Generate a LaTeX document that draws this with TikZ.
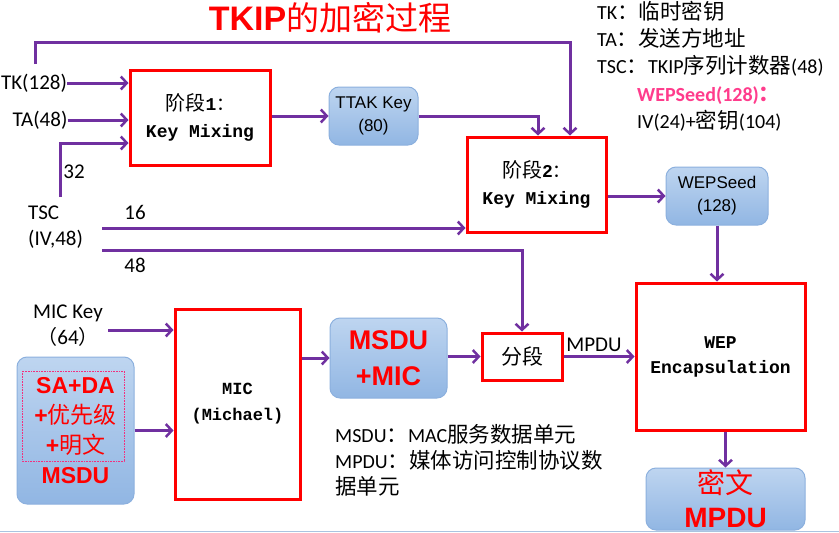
\documentclass[tikz,border=0pt]{standalone}
\usepackage{fontspec}
\setmainfont{Carlito}
\setmonofont{Liberation Mono}
\newfontfamily\cjk{Noto Sans CJK SC}
\newfontfamily\arialf{Liberation Sans}
\usetikzlibrary{arrows.meta,calc}
\definecolor{purp}{RGB}{112,48,160}
\definecolor{redc}{RGB}{255,0,0}
\definecolor{pinkc}{RGB}{255,60,140}
\definecolor{bluetop}{RGB}{190,213,240}
\definecolor{bluebot}{RGB}{145,182,227}
\definecolor{blueline}{RGB}{140,176,222}
\definecolor{baseblue}{RGB}{170,196,224}
\newcommand{\cjkl}[1]{{\cjk\fontsize{21.5}{27}\selectfont #1}}
\begin{document}
\begin{tikzpicture}[x=1pt,y=-1pt,
  redbox/.style={draw=redc,line width=3pt,fill=white,inner sep=0pt,align=center,
    font=\ttfamily\bfseries\fontsize{18}{27}\selectfont},
  bluebox/.style={draw=blueline,line width=1pt,rounded corners=10pt,
    top color=bluetop,bottom color=bluebot,inner sep=0pt,align=center},
  arr/.style={draw=purp,line width=3pt,-{Straight Barb[length=6pt,width=13pt,line width=2.5pt]}},
  lbl/.style={inner sep=0pt,font=\fontsize{21}{26}\selectfont}
]
\useasboundingbox (0,0) rectangle (839,533);
\draw[draw=baseblue,line width=1.5pt] (0,531.5) -- (839,531.5);

% title
\node[inner sep=0pt,text=redc] (title) at (330,18)
  {{\arialf\bfseries\fontsize{34}{38}\selectfont TKIP}{\cjk\fontsize{33}{38}\selectfont 的加密过程}};

% legend
\node[inner sep=0pt,anchor=west,align=left,font=\fontsize{20}{27}\selectfont] (leg1) at (597,39)
  {TK\cjkl{：临时密钥}\\TA\cjkl{：发送方地址}\\TSC\cjkl{：}TKIP\cjkl{序列计数器}(48)};
\node[inner sep=0pt,anchor=west,align=left,font=\fontsize{20}{27}\selectfont] (leg2) at (637,108.5)
  {\textcolor{pinkc}{\bfseries WEPSeed(128)\cjkl{：}}\\IV(24)+\cjkl{密钥}(104)};

% boxes
\node[redbox,minimum width=140pt,minimum height=95pt] (s1) at (200,117.5)
  {{\cjk\mdseries\fontsize{20}{27}\selectfont 阶段}1{\cjk\mdseries ：}\\Key Mixing};
\node[bluebox,minimum width=89pt,minimum height=58pt,font=\arialf\fontsize{17}{23}\selectfont] (ttak) at (373.5,116)
  {TTAK Key\\(80)};
\node[redbox,minimum width=139pt,minimum height=95pt] (s2) at (536.5,184.5)
  {{\cjk\mdseries\fontsize{20}{27}\selectfont 阶段}2{\cjk\mdseries ：}\\Key Mixing};
\node[bluebox,minimum width=102pt,minimum height=58pt,font=\arialf\fontsize{17}{23}\selectfont] (seed) at (717,196)
  {WEPSeed\\(128)};
\node[redbox,minimum width=169pt,minimum height=147pt,font=\ttfamily\bfseries\fontsize{18}{25}\selectfont] (wep) at (720.5,356.5)
  {WEP\\Encapsulation};
\node[bluebox,minimum width=159pt,minimum height=62pt,text=redc,font=\fontsize{28}{34}\selectfont] (cipher) at (725.5,499)
  {{\cjk 密文}\\{\arialf\bfseries MPDU}};
\node[redbox,minimum width=80pt,minimum height=47pt,font=\fontsize{21}{24}\selectfont] (fd) at (522,356.5)
  {\cjk 分段};
\node[bluebox,minimum width=117pt,minimum height=80pt,text=redc,font=\arialf\bfseries\fontsize{27}{36}\selectfont] (mm) at (388.5,358)
  {MSDU\\+MIC};
\node[redbox,minimum width=125pt,minimum height=190pt,font=\ttfamily\bfseries\fontsize{17}{26}\selectfont] (mic) at (237.5,404)
  {MIC\\(Michael)};
\node[bluebox,minimum width=117pt,minimum height=147pt,text=redc,font=\arialf\bfseries\fontsize{23}{30}\selectfont] (msdu) at (75.5,430.5)
  {SA+DA\\+{\cjk\mdseries 优先级}\\+{\cjk\mdseries 明文}\\MSDU};
\draw[pinkc!80!purple,densely dotted,line width=0.6pt] (22,371) rectangle (124,461);

% input labels
\node[lbl] (tk) at (34,83) {TK(128)};
\node[lbl] (ta) at (40,120) {TA(48)};
\node[lbl,anchor=west,align=left,font=\fontsize{21}{26}\selectfont] (tsc) at (28,227) {TSC\\(IV,48)};
\node[lbl] (n32) at (74,172) {32};
\node[lbl] (n16) at (135,212) {16};
\node[lbl] (n48) at (135,265) {48};
\node[lbl,align=center,font=\fontsize{21}{26}\selectfont] (mickey) at (68,326) {MIC Key\\{\cjk\fontsize{20}{26}\selectfont （}64{\cjk\fontsize{20}{26}\selectfont ）}};
\node[lbl] (mpdul) at (594,345) {MPDU};
\node[inner sep=0pt,anchor=west,align=left,font=\fontsize{20}{26}\selectfont] (note) at (335,460)
  {MSDU\cjkl{：}MAC\cjkl{服务数据单元}\\MPDU\cjkl{：媒体访问控制协议数}\\\cjkl{据单元}};

% free ends
\coordinate (ktop) at (35,64);
\coordinate (t32) at (60,197);
\coordinate (t16) at (102,228);
\coordinate (t48) at (102,250);
\coordinate (mk) at (108,330);

% connectors
\draw[arr] (tk.east) -- (tk.east -| s1.west);
\draw[arr] (ta.east) -- (ta.east -| s1.west);
\draw[arr] (t32) |- ($(s1.west)+(0,25.5)$);
\draw[arr] (ktop) |- (300,42) -| ($(s2.north)+(33.5,0)$);
\draw[arr] (s1.east |- ttak.west) -- (ttak.west);
\draw[arr] (ttak.east) -| ($(s2.north)+(1.5,0)$);
\draw[arr] (t16) -- (t16 -| s2.west);
\draw[arr] (t48) -| (fd.north);
\draw[arr] (s2.east |- seed.west) -- (seed.west);
\draw[arr] (seed.south) -- (seed.south |- wep.north);
\draw[arr] (mk) -- (mk -| mic.west);
\draw[arr] (msdu.east) -- (msdu.east -| mic.west);
\draw[arr] (mic.east |- mm.west) -- (mm.west);
\draw[arr] (mm.east |- fd.west) -- (fd.west);
\draw[arr] (fd.east) -- (fd.east -| wep.west);
\draw[arr] (wep.south -| cipher.north) -- (cipher.north);
\end{tikzpicture}
\end{document}
